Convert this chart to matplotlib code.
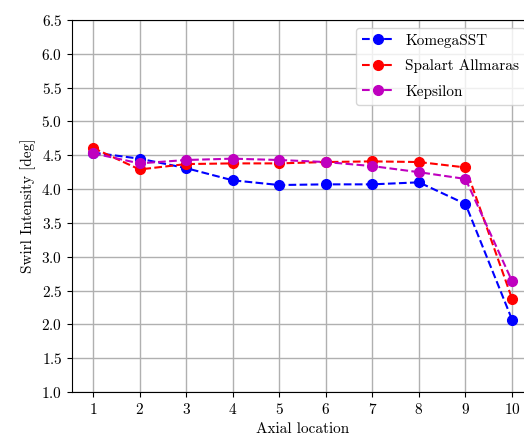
import numpy as np
import matplotlib.pyplot as plt

plt.rcParams['font.family'] = 'serif'
plt.rcParams['font.serif'] = ['cmr10']
plt.rcParams['mathtext.fontset'] = 'cm'
plt.rcParams['axes.formatter.use_mathtext'] = True
plt.rcParams['font.size'] = 11

# swirl intensity at each axial station
location = [1, 2, 3, 4, 5, 6, 7, 8, 9, 10]
komega_sst = [4.54, 4.45, 4.31, 4.13, 4.06, 4.07, 4.07, 4.10, 3.78, 2.07]
spalart = [4.61, 4.29, 4.37, 4.38, 4.38, 4.40, 4.41, 4.40, 4.32, 2.38]
kepsilon = [4.53, 4.38, 4.43, 4.45, 4.43, 4.40, 4.34, 4.25, 4.15, 2.64]

fig = plt.figure(figsize=(5.24, 4.37), dpi=100)
ax = fig.add_axes([72 / 524, 1 - 392 / 437, 461 / 524, 372 / 437])

ax.plot(location, komega_sst, 'b--o', lw=1.5, ms=7, label='KomegaSST')
ax.plot(location, spalart, 'r--o', lw=1.5, ms=7, label='Spalart Allmaras')
ax.plot(location, kepsilon, 'm--o', lw=1.5, ms=7, label='Kepsilon')

ax.set_xticks(location)
ax.set_ylim(1.0, 6.5)
ax.set_yticks(np.arange(1.0, 6.51, 0.5))
ax.set_xlabel('Axial location')
ax.set_ylabel('Swirl Intensity [deg]')
ax.grid(True, color='#b0b0b0', lw=1.0)
ax.legend(loc='upper right', labelspacing=0.75)

fig.savefig('out.png', dpi=100)
